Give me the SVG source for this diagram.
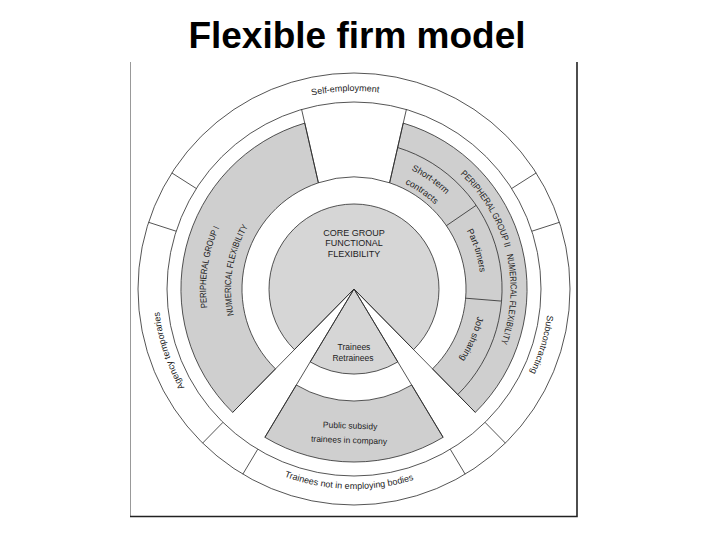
<svg xmlns="http://www.w3.org/2000/svg" width="720" height="540" viewBox="0 0 720 540">
<style>
.ln{fill:none;stroke:#2a2a2a;stroke-width:0.8}
.gray{fill:#cfcfcf;stroke:#2a2a2a;stroke-width:0.8}
.core{fill:#d6d6d6;stroke:#2a2a2a;stroke-width:0.8}
.t{font-family:"Liberation Sans",Arial,sans-serif;font-size:9px;fill:#222}
.s{font-size:8.5px}
.title{font-family:"Liberation Sans",Arial,sans-serif;font-size:37px;font-weight:bold;fill:#000}
</style>
<defs>
<path id="pSelf" d="M220.2,143 A198,198 0 0 1 474.5,131.9"/>
<path id="pSub" d="M532.8,211.3 A195,195 0 0 1 461.6,451.6"/>
<path id="pTrn" d="M221.5,438.8 A200,200 0 0 0 478.5,445.5"/>
<path id="pAg" d="M251.3,455.9 A196,196 0 0 1 171.8,216.9"/>
<path id="pP1" d="M227.7,366.1 A148,148 0 0 1 256.1,178"/>
<path id="pN1" d="M248.5,352.2 A123,123 0 0 1 273.5,196"/>
<path id="pP2" d="M404.2,140.8 A156.5,156.5 0 0 1 508.7,312.7"/>
<path id="pN2" d="M480.3,196.6 A156.5,156.5 0 0 1 467,397.3"/>
<path id="pST" d="M342.5,157.5 A132,132 0 0 1 481.5,254.8"/>
<path id="pCt" d="M343.4,172.5 A117,117 0 0 1 466.9,258.3"/>
<path id="pPT" d="M422.4,182 A127,127 0 0 1 471.2,337.8"/>
<path id="pJS" d="M475,252 A126.5,126.5 0 0 1 411.4,401.7"/>
</defs>
<rect width="720" height="540" fill="#fff"/>
<text class="title" x="357" y="48" text-anchor="middle">Flexible firm model</text>
<g id="frame">
<line x1="130.5" y1="62" x2="130.5" y2="517" stroke="#999" stroke-width="1"/>
<polyline points="130,516.5 577,516.5 577,62" fill="none" stroke="#222" stroke-width="1.6"/>
</g>
<g id="outer-band">
<circle class="ln" cx="354" cy="289" r="216"/>
<circle class="ln" cx="354" cy="289" r="187"/>
</g>
<g id="peripheral-group-1">
<path class="gray" d="M318.4,182.8 A112,112 0 0 0 275.5,368.9 L232.7,412.4 A173,173 0 0 1 304.8,123.1 Z"/>
<text class="t"><textPath href="#pP1" startOffset="50%" text-anchor="middle" textLength="82" lengthAdjust="spacingAndGlyphs">PERIPHERAL GROUP I</textPath></text>
<text class="t"><textPath href="#pN1" startOffset="50%" text-anchor="middle" textLength="92" lengthAdjust="spacingAndGlyphs">NUMERICAL FLEXIBILITY</textPath></text>
</g>
<g id="peripheral-group-2">
<path class="gray" d="M389.6,182.8 A112,112 0 0 1 432.5,368.9 L475.3,412.4 A173,173 0 0 0 403.2,123.1 Z"/>
<text class="t"><textPath href="#pP2" startOffset="50%" text-anchor="middle" textLength="87" lengthAdjust="spacingAndGlyphs">PERIPHERAL GROUP II</textPath></text>
<text class="t"><textPath href="#pN2" startOffset="50%" text-anchor="middle" textLength="90" lengthAdjust="spacingAndGlyphs">NUMERICAL FLEXIBILITY</textPath></text>
</g>
<g id="public-subsidy">
<path class="gray" d="M296.3,385 A112,112 0 0 0 411.7,385 L443.1,437.3 A173,173 0 0 1 264.9,437.3 Z"/>
<text class="t s" x="350" y="428.5" text-anchor="middle" transform="rotate(2 350 428)">Public subsidy</text>
<text class="t s" x="349" y="443" text-anchor="middle" transform="rotate(2 349 442)">trainees in company</text>
</g>
<g id="core-group">
<path class="core" d="M354,289 L413.6,349.6 A85,85 0 1 0 294.4,349.6 Z"/>
<text class="t" x="354" y="235.5" text-anchor="middle">CORE GROUP</text>
<text class="t" x="354" y="246" text-anchor="middle">FUNCTIONAL</text>
<text class="t" x="354" y="256.5" text-anchor="middle">FLEXIBILITY</text>
</g>
<g id="trainees">
<path class="core" d="M354,289 L310.2,361.9 A85,85 0 0 0 397.8,361.9 Z"/>
<text class="t s" x="354" y="349.5" text-anchor="middle">Trainees</text>
<text class="t s" x="353" y="360.5" text-anchor="middle">Retrainees</text>
</g>
<g id="dividers">
<line class="ln" x1="354" y1="289" x2="264.9" y2="437.3"/>
<line class="ln" x1="354" y1="289" x2="232.7" y2="412.4"/>
<line class="ln" x1="354" y1="289" x2="443.1" y2="437.3"/>
<line class="ln" x1="354" y1="289" x2="475.3" y2="412.4"/>
<line class="ln" x1="301.6" y1="109.4" x2="318.4" y2="182.8"/>
<line class="ln" x1="406.4" y1="109.4" x2="389.6" y2="182.8"/>
<path class="ln" d="M318.4,182.8 A112,112 0 0 1 389.6,182.8"/>
<path class="ln" d="M397.6,147.5 A148,148 0 0 1 457.7,394.6"/>
<line class="ln" x1="446.4" y1="225.7" x2="476.1" y2="205.4"/>
<line class="ln" x1="465.6" y1="298.2" x2="501.5" y2="301.1"/>
<line class="ln" x1="511.7" y1="188.5" x2="536.2" y2="172.9"/>
<line class="ln" x1="531.9" y1="231.2" x2="559.4" y2="222.3"/>
<line class="ln" x1="196.3" y1="188.5" x2="171.8" y2="172.9"/>
<line class="ln" x1="176.1" y1="231.2" x2="148.6" y2="222.3"/>
<line class="ln" x1="257.7" y1="449.3" x2="242.8" y2="474.2"/>
<line class="ln" x1="222.9" y1="422.4" x2="202.6" y2="443.1"/>
<line class="ln" x1="450.3" y1="449.3" x2="465.2" y2="474.2"/>
<line class="ln" x1="485.1" y1="422.4" x2="505.4" y2="443.1"/>
</g>
<g id="short-term-contracts">
<text class="t"><textPath href="#pST" startOffset="50%" text-anchor="middle">Short-term</textPath></text>
<text class="t"><textPath href="#pCt" startOffset="50%" text-anchor="middle">contracts</textPath></text>
</g>
<g id="part-timers">
<text class="t"><textPath href="#pPT" startOffset="50%" text-anchor="middle">Part-timers</textPath></text>
</g>
<g id="job-sharing">
<text class="t"><textPath href="#pJS" startOffset="50%" text-anchor="middle">Job sharing</textPath></text>
</g>
<g id="self-employment">
<text class="t"><textPath href="#pSelf" startOffset="50%" text-anchor="middle">Self-employment</textPath></text>
</g>
<g id="subcontracting">
<text class="t"><textPath href="#pSub" startOffset="50%" text-anchor="middle">Subcontracting</textPath></text>
</g>
<g id="trainees-not-employing">
<text class="t"><textPath href="#pTrn" startOffset="50%" text-anchor="middle">Trainees not in employing bodies</textPath></text>
</g>
<g id="agency-temporaries">
<text class="t"><textPath href="#pAg" startOffset="50%" text-anchor="middle">Agency temporaries</textPath></text>
</g>
</svg>
